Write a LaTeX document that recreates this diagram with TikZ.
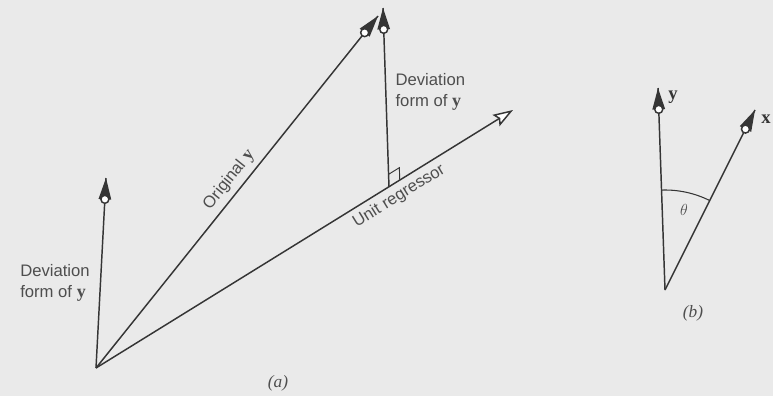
\documentclass[tikz,border=0pt]{standalone}
\usepackage{fontspec}
\setsansfont{Liberation Sans}
\newfontfamily\bser{Liberation Serif}
\usetikzlibrary{calc,arrows.meta}
\definecolor{ink}{HTML}{353535}
\definecolor{txt}{HTML}{4E4E4E}
\definecolor{paper}{HTML}{EAEAEA}
\newcommand{\fancytip}[2]{% #1 = from, #2 = tip
  \coordinate (ftb) at ($(#2)!16pt!(#1)$);
  \fill[ink] (#2) -- ($(ftb)!4.8pt!90:(#2)$) -- ($(ftb)!4.8pt!-90:(#2)$) -- cycle;
  \draw[ink, fill=white, line width=1.1pt] (ftb) circle (3pt);
}
\newcommand{\by}{{\bser\bfseries\fontsize{13.5}{15.5}\selectfont y}}
\tikzset{
  vec/.style={draw=ink, line width=1.1pt},
  lab/.style={text=txt, font=\sffamily\fontsize{12.5}{15.5}\selectfont, inner sep=1pt},
  figcap/.style={text=txt, font=\bser\fontsize{13}{15}\selectfont\itshape},
  sym/.style={text=ink, font=\bser\bfseries\fontsize{14}{16}\selectfont, inner sep=0pt}
}
\begin{document}
\begin{tikzpicture}[x=0.75pt, y=-0.75pt]
\fill[paper] (0,0) rectangle (773,396);
\useasboundingbox (0,0) rectangle (773,396);

% ---------- (a) ----------
\coordinate (O) at (96,368);
\coordinate (A) at (106,178);
\coordinate (B) at (378,16);
\coordinate (F) at (389,187);
\coordinate (V) at (383,8);
\coordinate (R) at (513,110);

\draw[vec] (O) -- (A);
\draw[vec] (O) -- (B);
\draw[vec] (F) -- (V);
\draw[vec, -{Stealth[open, fill=white, length=15pt, width=10pt, inset=2.5pt]}] (O) -- (R);
\fancytip{O}{A}
\fancytip{O}{B}
\fancytip{F}{V}

% right angle mark
\coordinate (Fr) at ($(F)!9.5pt!(R)$);
\coordinate (Fv) at ($(F)!9.5pt!(V)$);
\draw[ink, line width=0.7pt] (Fr) -- ($(Fr)+(Fv)-(F)$) -- (Fv);

\path (O) -- (B) node[lab, sloped, above, pos=0.51, inner sep=4pt] (lorig) {Original \by};
\path (O) -- (R) node[lab, sloped, below, pos=0.71, inner sep=4pt] (lunit) {Unit regressor};
\node[lab, align=left, anchor=north west] (ldevr) at (394,72) {Deviation\\form of \by};
\node[lab, align=left] (ldevl) at (55,283) {Deviation\\form of \by};
\node[figcap] (capa) at (278,383) {(a)};

% ---------- (b) ----------
\coordinate (P) at (665,290);
\coordinate (Y) at (658,88);
\coordinate (X) at (755,110);
\draw[vec] (P) -- (Y);
\draw[vec] (P) -- (X);
\fancytip{P}{Y}
\fancytip{P}{X}
\coordinate (Ya) at ($(P)!75pt!(Y)$);
\draw[ink, line width=0.8pt] (Ya) arc[start angle=92, end angle=63.4, radius=75pt];
\node[sym] (ly) at (673,97) {y};
\node[sym] (lx) at (766,119) {x};
\node[text=txt, font=\fontsize{12}{14}\selectfont, inner sep=0pt] (lth) at (684,210) {$\theta$};
\node[figcap] (capb) at (693,313) {(b)};
\end{tikzpicture}
\end{document}
